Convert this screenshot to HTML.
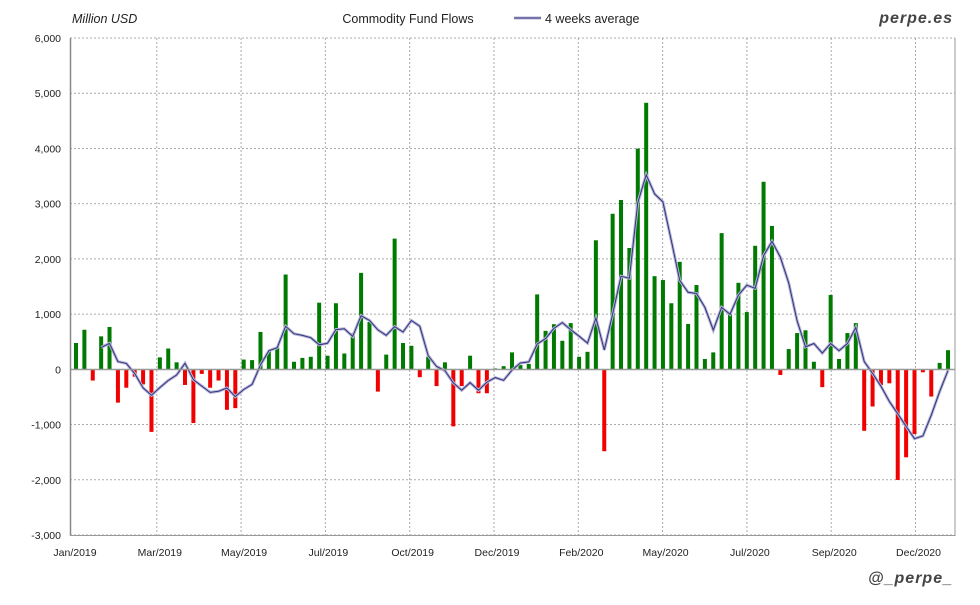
<!DOCTYPE html>
<html><head><meta charset="utf-8"><style>
body{margin:0;background:#fff}
svg text{font-family:"Liberation Sans",sans-serif}
</style></head><body>
<svg id="c" width="980" height="600" xmlns="http://www.w3.org/2000/svg"></svg>
<script>
const d=[480,720,-200,600,770,-600,-330,-130,-270,-1130,220,380,130,-280,-970,-80,-330,-200,-730,-700,
180,170,680,330,400,1720,140,210,230,1210,250,1200,290,660,1750,860,-400,270,2370,480,
430,-140,230,-300,130,-1030,-300,250,-430,-430,20,60,310,80,100,1360,700,820,520,840,
230,320,2340,-1480,2820,3070,2200,4000,4830,1690,1620,1200,1950,825,1530,190,310,2470,1030,1570,
1040,2240,3400,2600,-100,370,660,710,140,-320,1350,190,660,840,-1110,-670,-280,-250,-2000,-1590,
-1170,-50,-490,120,350];
const X=k=>76+8.385*k, Y=v=>369.5-v*0.05522;
let s='';
for(let i=0;i<=9;i++){const y=38+i*55.22;s+=`<line x1="70" x2="955" y1="${y}" y2="${y}" stroke="#aaa" stroke-dasharray="2,2"/>`;
s+=`<text x="61" y="${y+4}" font-size="10.5" text-anchor="end" fill="#222">${(6000-i*1000).toLocaleString('en-US')}</text>`;}
const labs=["Jan/2019","Mar/2019","May/2019","Jul/2019","Oct/2019","Dec/2019","Feb/2020","May/2020","Jul/2020","Sep/2020","Dec/2020"];
for(let i=0;i<11;i++){const gx=72.5+84.3*i;
 if(i>0)s+=`<line x1="${gx}" x2="${gx}" y1="38" y2="535" stroke="#aaa" stroke-dasharray="2,2"/>`;
 s+=`<text x="${i==0?75:gx+3}" y="556" font-size="10.5" text-anchor="middle" fill="#222">${labs[i]}</text>`;}
d.forEach((v,k)=>{const y=Y(v);s+=`<rect x="${X(k)-2}" y="${Math.min(y,369.5)}" width="4" height="${Math.abs(369.5-y)}" fill="${v>=0?'#007a00':'#f00000'}"/>`;});
let p='';for(let k=3;k<d.length;k++){const a=(d[k]+d[k-1]+d[k-2]+d[k-3])/4;p+=(k==3?'M':'L')+X(k).toFixed(1)+','+Y(a).toFixed(1);}
s+=`<path d="${p}" fill="none" stroke="#b4b4d8" stroke-width="3"/><path d="${p}" fill="none" stroke="#33337a" stroke-width="1"/>`;
s+=`<line x1="70" x2="955" y1="369.5" y2="369.5" stroke="#999" stroke-width="1.5"/>`;
s+=`<line x1="70.5" x2="70.5" y1="38" y2="536" stroke="#888" stroke-width="1.5"/><line x1="955" x2="955" y1="38" y2="536" stroke="#999"/><line x1="70" x2="955" y1="535.5" y2="535.5" stroke="#999"/>`;
s+=`<text x="72" y="23" font-size="12.5" font-style="italic" fill="#222">Million USD</text>`;
s+=`<text x="408" y="23" font-size="12.5" text-anchor="middle" fill="#222">Commodity Fund Flows</text>`;
s+=`<line x1="514" x2="541" y1="18" y2="18" stroke="#b4b4d8" stroke-width="3"/><line x1="514" x2="541" y1="18" y2="18" stroke="#33337a" stroke-width="1"/>`;
s+=`<text x="545" y="23" font-size="12.5" fill="#222">4 weeks average</text>`;
s+=`<text x="953" y="23" font-size="16" font-weight="bold" font-style="italic" text-anchor="end" fill="#444" letter-spacing="1">perpe.es</text>`;
s+=`<text x="953" y="583" font-size="16" font-weight="bold" font-style="italic" text-anchor="end" fill="#444" letter-spacing="1">@_perpe_</text>`;
document.getElementById('c').innerHTML=s;
</script>
</body></html>
